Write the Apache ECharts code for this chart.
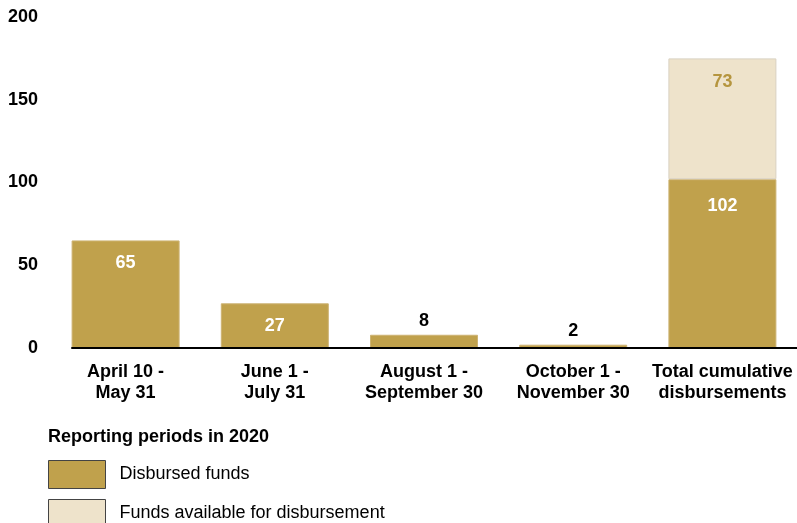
<!DOCTYPE html>
<html>
<head>
<meta charset="utf-8">
<script src="https://cdn.jsdelivr.net/npm/echarts@6/dist/echarts.min.js"></script>
<style>
  html, body { margin: 0; padding: 0; background: #fff; }
  #chart { width: 797px; height: 523px; }
</style>
</head>
<body>
<div id="chart"></div>
<script>
// Reporting periods (x axis) and amounts per period
const periods = [
  'April 10 -\nMay 31',
  'June 1 -\nJuly 31',
  'August 1 -\nSeptember 30',
  'October 1 -\nNovember 30',
  'Total cumulative\ndisbursements'
];
const disbursed = [65, 27, 8, 2, 102];
const available = [null, null, null, null, 73];
const yTicks = [0, 50, 100, 150, 200];

const GOLD = '#C0A14C';
const CREAM = '#EEE3CB';
const FONT = 'Liberation Sans, Arial, sans-serif';
const FS = 18;

const chart = echarts.init(document.getElementById('chart'), null, { renderer: 'canvas' });

// small bars get their value printed above in black; tall ones get it inside in white,
// a little lower on the stacked total bar
const disbursedData = disbursed.map((v, i) => ({
  value: v,
  label: v < 15
    ? { position: 'top', distance: 5, color: '#000' }
    : { position: 'insideTop', distance: available[i] != null ? 18 : 14, color: '#fff' }
}));

chart.setOption({
  animation: false,
  textStyle: { fontFamily: FONT },
  title: {
    text: 'Reporting periods in 2020',
    left: 43,
    top: 423,
    textStyle: { fontFamily: FONT, fontSize: FS, fontWeight: 'bold', color: '#000' }
  },
  legend: {
    orient: 'vertical',
    left: 48,
    top: 460,
    height: 90,
    padding: 0,
    itemWidth: 57,
    itemHeight: 28,
    itemGap: 10,
    icon: 'rect',
    itemStyle: { borderColor: '#444', borderWidth: 1 },
    textStyle: { fontFamily: FONT, fontSize: FS, color: '#000', padding: [0, 0, 0, 9] },
    data: ['Disbursed funds', 'Funds available for disbursement']
  },
  grid: [
    { left: 51, right: 0, top: 17, bottom: 175, containLabel: false },
    { left: 72, right: 0, top: 17, bottom: 175, containLabel: false }
  ],
  xAxis: [
    {
      type: 'category',
      gridIndex: 0,
      data: periods,
      axisLine: { show: false },
      axisTick: { show: false },
      axisLabel: {
        margin: 14,
        fontFamily: FONT,
        fontSize: FS,
        fontWeight: 'bold',
        color: '#000',
        lineHeight: 21,
        interval: 0
      }
    },
    {
      type: 'category',
      gridIndex: 1,
      data: periods,
      axisLine: { show: true, lineStyle: { color: '#000', width: 2 } },
      axisTick: { show: false },
      axisLabel: { show: false },
      z: 5
    }
  ],
  yAxis: [
    {
      type: 'value',
      gridIndex: 0,
      min: yTicks[0],
      max: yTicks[yTicks.length - 1],
      interval: 50,
      splitLine: { show: false },
      axisLine: { show: false },
      axisTick: { show: false },
      axisLabel: {
        margin: 13,
        fontFamily: FONT,
        fontSize: FS,
        fontWeight: 'bold',
        color: '#000'
      }
    },
    {
      type: 'value',
      gridIndex: 1,
      min: yTicks[0],
      max: yTicks[yTicks.length - 1],
      show: false
    }
  ],
  series: [
    {
      name: 'Disbursed funds',
      type: 'bar',
      stack: 'funds',
      barWidth: 108,
      data: disbursedData,
      itemStyle: { color: GOLD, borderColor: '#CDB373', borderWidth: 1 },
      label: {
        show: true,
        fontFamily: FONT,
        fontSize: FS,
        fontWeight: 'bold'
      }
    },
    {
      name: 'Funds available for disbursement',
      type: 'bar',
      stack: 'funds',
      barWidth: 108,
      data: available,
      itemStyle: { color: CREAM, borderColor: '#D9D2C2', borderWidth: 1 },
      label: {
        show: true,
        position: 'insideTop',
        distance: 15,
        fontFamily: FONT,
        fontSize: FS,
        fontWeight: 'bold',
        color: '#B5953E'
      }
    }
  ]
});
</script>
</body>
</html>
